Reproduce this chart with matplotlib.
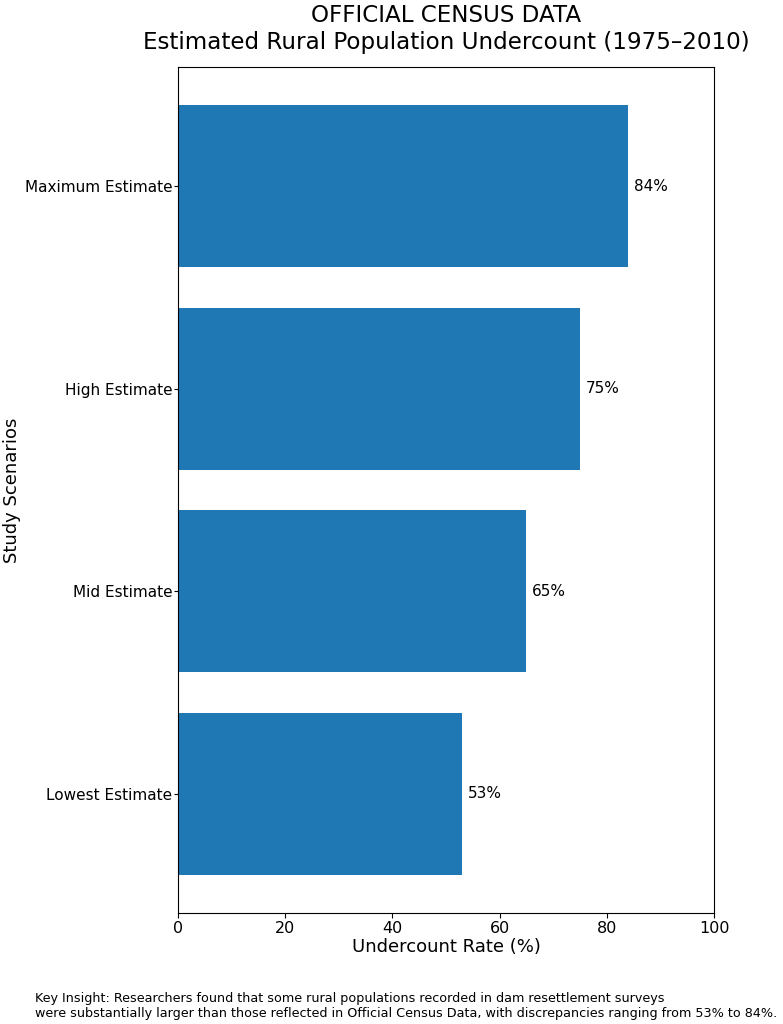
import matplotlib
matplotlib.use("Agg")
import matplotlib.pyplot as plt

# data
scenarios = ["Lowest Estimate", "Mid Estimate", "High Estimate", "Maximum Estimate"]
rates = [53, 65, 75, 84]

fig = plt.figure(figsize=(7.83, 10.24), dpi=100)
ax = fig.add_axes([0.2273, 0.1084, 0.6846, 0.8262])

bars = ax.barh(scenarios, rates, color="#1f77b4", height=0.8)
for b, v in zip(bars, rates):
    ax.text(b.get_width() + 1, b.get_y() + b.get_height() / 2, f"{v}%",
            va="center", ha="left", fontsize=11)

ax.set_xlim(0, 100)
ax.tick_params(axis="y", labelsize=11, pad=1, length=3)
ax.tick_params(axis="x", labelsize=11.5, pad=2.5, length=3.5)
ax.set_xlabel("Undercount Rate (%)", fontsize=13, labelpad=1)
ax.set_ylabel("Study Scenarios", fontsize=13, labelpad=3)
ax.set_title("OFFICIAL CENSUS DATA\nEstimated Rural Population Undercount (1975–2010)",
             fontsize=16.6, pad=13)

fig.text(0.045, 0.004,
         "Key Insight: Researchers found that some rural populations recorded in dam resettlement surveys\n"
         "were substantially larger than those reflected in Official Census Data, with discrepancies ranging from 53% to 84%.",
         fontsize=9.2, ha="left", va="bottom")

fig.savefig("out.png", dpi=100)
